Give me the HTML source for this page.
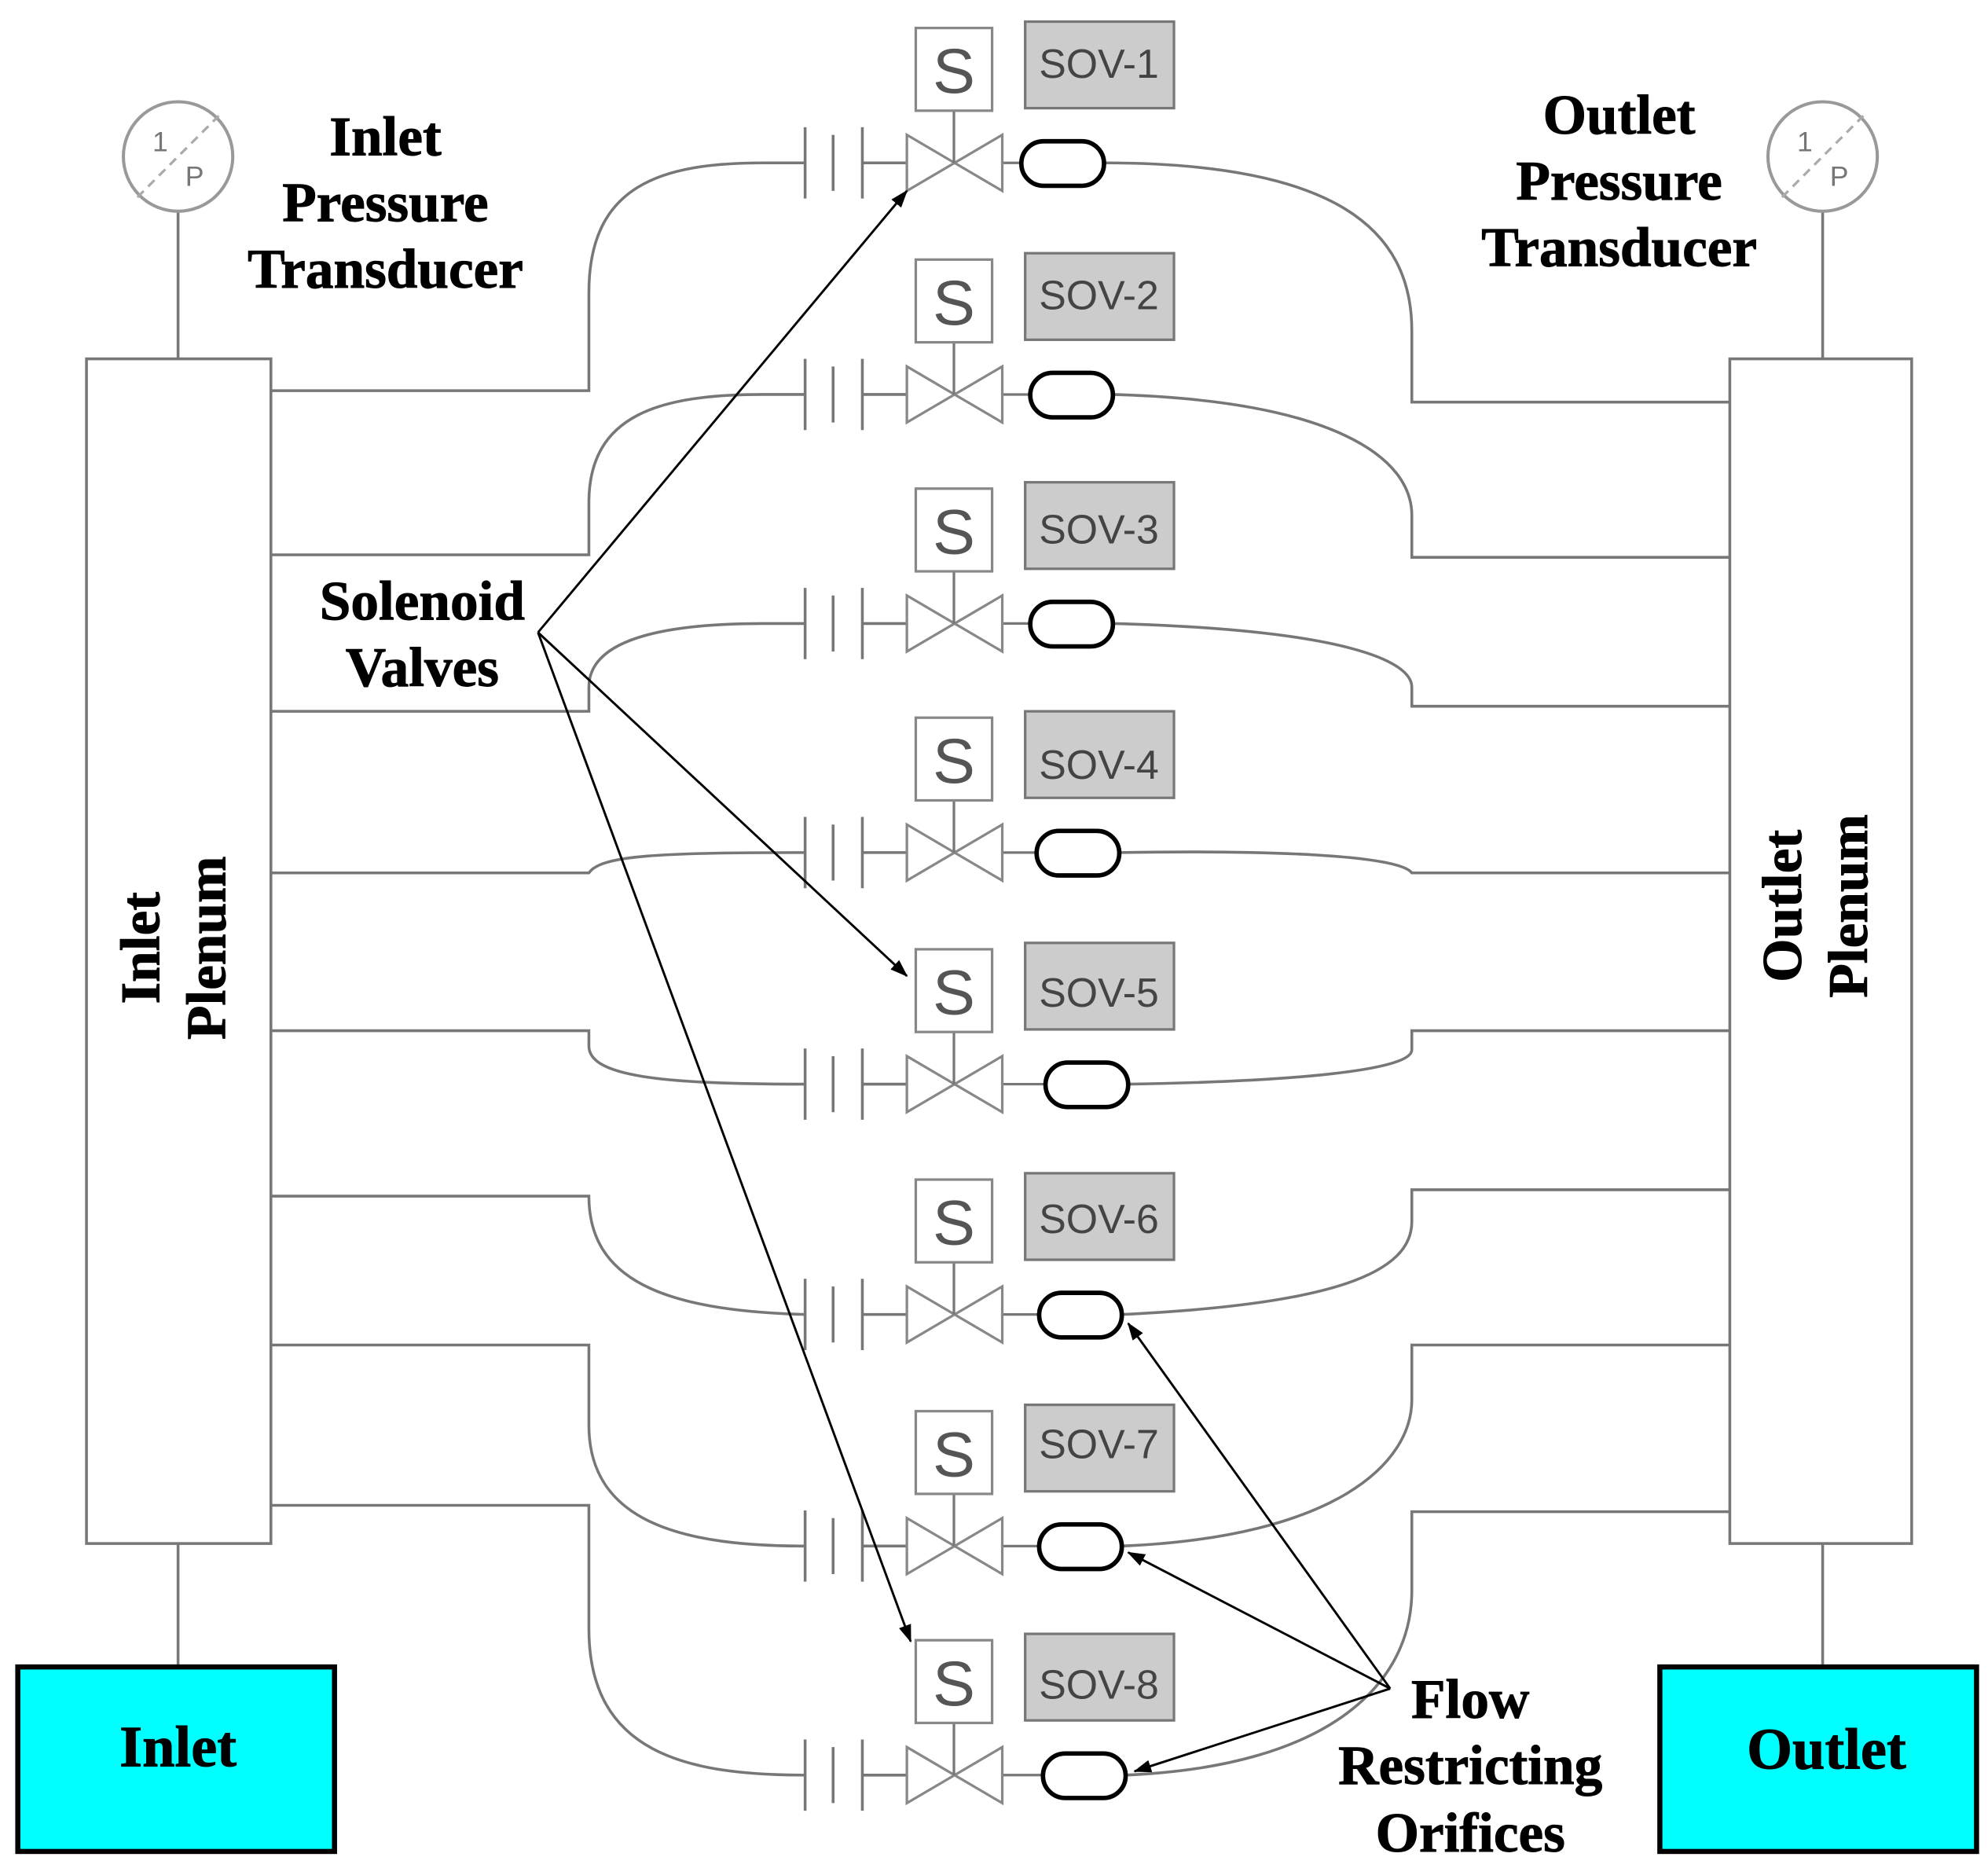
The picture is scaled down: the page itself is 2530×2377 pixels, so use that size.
<!DOCTYPE html>
<html><head><meta charset="utf-8">
<style>
html,body{margin:0;padding:0;background:#fff;}
svg{display:block;}
</style></head>
<body>
<svg width="2530" height="2377" viewBox="0 0 1563 1468" preserveAspectRatio="none" xmlns="http://www.w3.org/2000/svg">
<defs>
<marker id="ah" markerWidth="14" markerHeight="10" refX="13" refY="5" orient="auto" markerUnits="userSpaceOnUse">
<path d="M0,0 L14,5 L0,10 Z" fill="#000"/>
</marker>
<g id="row">
  <line x1="633" y1="-28" x2="633" y2="28" stroke="#777" stroke-width="2.2"/>
  <line x1="655" y1="-22" x2="655" y2="22" stroke="#777" stroke-width="2.2"/>
  <line x1="678" y1="-28" x2="678" y2="28" stroke="#777" stroke-width="2.2"/>
  <line x1="678" y1="0" x2="713" y2="0" stroke="#777" stroke-width="2.2"/>
  <line x1="788" y1="0" x2="822" y2="0" stroke="#777" stroke-width="2"/>
  <path d="M713,-22 L788,22 L788,-22 L713,22 Z" fill="#fff" stroke="#888" stroke-width="2"/>
  <line x1="750" y1="0" x2="750" y2="-41" stroke="#777" stroke-width="2"/>
  <rect x="720" y="-106" width="60" height="65" fill="#fff" stroke="#888" stroke-width="2"/>
  <text x="750" y="-55" font-family="Liberation Sans, sans-serif" font-size="50" fill="#555" text-anchor="middle">S</text>
  <rect x="806" y="-111" width="117" height="68" fill="#ccc" stroke="#777" stroke-width="2"/>
</g>
</defs>

<g fill="none" stroke="#777" stroke-width="2.2">
  <rect x="68" y="282" width="145" height="931" fill="#fff"/>
  <rect x="1360" y="282" width="143" height="931" fill="#fff"/>
  <line x1="140" y1="166" x2="140" y2="282"/>
  <line x1="1433" y1="166" x2="1433" y2="282"/>
  <line x1="140" y1="1213" x2="140" y2="1310"/>
  <line x1="1433" y1="1213" x2="1433" y2="1310"/>
  <path d="M213 307 H463 V230 C463 145 520 128 600 128 H633"/>
  <path d="M213 436 H463 V395 C463 325 520 310 600 310 H633"/>
  <path d="M213 559 H463 V540 C463 503 520 490 600 490 H633"/>
  <path d="M213 686 H463 C472 672 520 670 633 670"/>
  <path d="M213 810 H463 V822 C463 846 520 852 633 852"/>
  <path d="M213 940 H463 C463 1005 520 1030 633 1033"/>
  <path d="M213 1057 H463 V1120 C463 1198 540 1215 633 1215"/>
  <path d="M213 1183 H463 V1280 C463 1378 540 1395 633 1395"/>
  <path d="M868 128 C1050 128 1110 180 1110 260 V316 H1360"/>
  <path d="M875 310 C1050 315 1110 360 1110 405 V438 H1360"/>
  <path d="M875 490 C1060 495 1110 520 1110 540 V555 H1360"/>
  <path d="M880 670 C1000 668 1100 672 1110 686 H1360"/>
  <path d="M887 852 C1010 850 1110 842 1110 825 V810 H1360"/>
  <path d="M882 1033 C1050 1025 1110 1000 1110 960 V935 H1360"/>
  <path d="M882 1215 C1050 1208 1110 1150 1110 1100 V1057 H1360"/>
  <path d="M885 1395 C1050 1388 1110 1320 1110 1250 V1188 H1360"/>
</g>

<use href="#row" transform="translate(0,128)"/>
<use href="#row" transform="translate(0,310)"/>
<use href="#row" transform="translate(0,490)"/>
<use href="#row" transform="translate(0,670)"/>
<use href="#row" transform="translate(0,852)"/>
<use href="#row" transform="translate(0,1033)"/>
<use href="#row" transform="translate(0,1215)"/>
<use href="#row" transform="translate(0,1395)"/>

<g font-family="Liberation Sans, sans-serif" font-size="32" fill="#444" text-anchor="middle">
  <text x="864" y="61">SOV-1</text>
  <text x="864" y="243">SOV-2</text>
  <text x="864" y="427">SOV-3</text>
  <text x="864" y="612">SOV-4</text>
  <text x="864" y="791">SOV-5</text>
  <text x="864" y="969">SOV-6</text>
  <text x="864" y="1146">SOV-7</text>
  <text x="864" y="1335">SOV-8</text>
</g>

<g fill="#fff" stroke="#000" stroke-width="3.5">
  <rect x="803" y="111" width="65" height="35" rx="17.5"/>
  <rect x="810" y="293" width="65" height="35" rx="17.5"/>
  <rect x="810" y="473" width="65" height="35" rx="17.5"/>
  <rect x="815" y="653" width="65" height="35" rx="17.5"/>
  <rect x="822" y="835" width="65" height="35" rx="17.5"/>
  <rect x="817" y="1016" width="65" height="35" rx="17.5"/>
  <rect x="817" y="1198" width="65" height="35" rx="17.5"/>
  <rect x="820" y="1378" width="65" height="35" rx="17.5"/>
</g>

<g>
  <circle cx="140" cy="123" r="43" fill="#fff" stroke="#999" stroke-width="2.5"/>
  <line x1="108" y1="155" x2="172" y2="91" stroke="#aaa" stroke-width="2" stroke-dasharray="7,5"/>
  <text x="126" y="119" font-family="Liberation Sans, sans-serif" font-size="22" fill="#777" text-anchor="middle">1</text>
  <text x="153" y="146" font-family="Liberation Sans, sans-serif" font-size="22" fill="#777" text-anchor="middle">P</text>
  <circle cx="1433" cy="123" r="43" fill="#fff" stroke="#999" stroke-width="2.5"/>
  <line x1="1401" y1="155" x2="1465" y2="91" stroke="#aaa" stroke-width="2" stroke-dasharray="7,5"/>
  <text x="1419" y="119" font-family="Liberation Sans, sans-serif" font-size="22" fill="#777" text-anchor="middle">1</text>
  <text x="1446" y="146" font-family="Liberation Sans, sans-serif" font-size="22" fill="#777" text-anchor="middle">P</text>
</g>

<rect x="14" y="1310" width="249" height="145" fill="#00ffff" stroke="#000" stroke-width="4"/>
<rect x="1305" y="1310" width="249" height="145" fill="#00ffff" stroke="#000" stroke-width="4"/>

<g stroke="#000" stroke-width="1.8" fill="none" marker-end="url(#ah)">
  <line x1="423" y1="497" x2="713" y2="150"/>
  <line x1="423" y1="497" x2="713" y2="767"/>
  <line x1="423" y1="497" x2="716" y2="1290"/>
  <line x1="1093" y1="1327" x2="887" y2="1040"/>
  <line x1="1093" y1="1327" x2="887" y2="1220"/>
  <line x1="1093" y1="1327" x2="892" y2="1392"/>
</g>

<g font-family="Liberation Serif, serif" font-weight="bold" font-size="44" fill="#000" stroke="#000" stroke-width="0.6" text-anchor="middle">
  <text x="303" y="122">Inlet</text>
  <text x="303" y="174">Pressure</text>
  <text x="303" y="226">Transducer</text>
  <text x="1273" y="105">Outlet</text>
  <text x="1273" y="157">Pressure</text>
  <text x="1273" y="209">Transducer</text>
  <text x="332" y="487">Solenoid</text>
  <text x="332" y="539">Valves</text>
  <text x="1156" y="1350">Flow</text>
  <text x="1156" y="1402">Restricting</text>
  <text x="1156" y="1455">Orifices</text>
  <text x="140" y="1388" font-size="46">Inlet</text>
  <text x="1436" y="1390" font-size="46">Outlet</text>
  <g transform="translate(125,745) rotate(-90)"><text x="0" y="0">Inlet</text></g>
  <g transform="translate(177,745) rotate(-90)"><text x="0" y="0">Plenum</text></g>
  <g transform="translate(1416,712) rotate(-90)"><text x="0" y="0">Outlet</text></g>
  <g transform="translate(1468,712) rotate(-90)"><text x="0" y="0">Plenum</text></g>
</g>
</svg>
</body></html>
